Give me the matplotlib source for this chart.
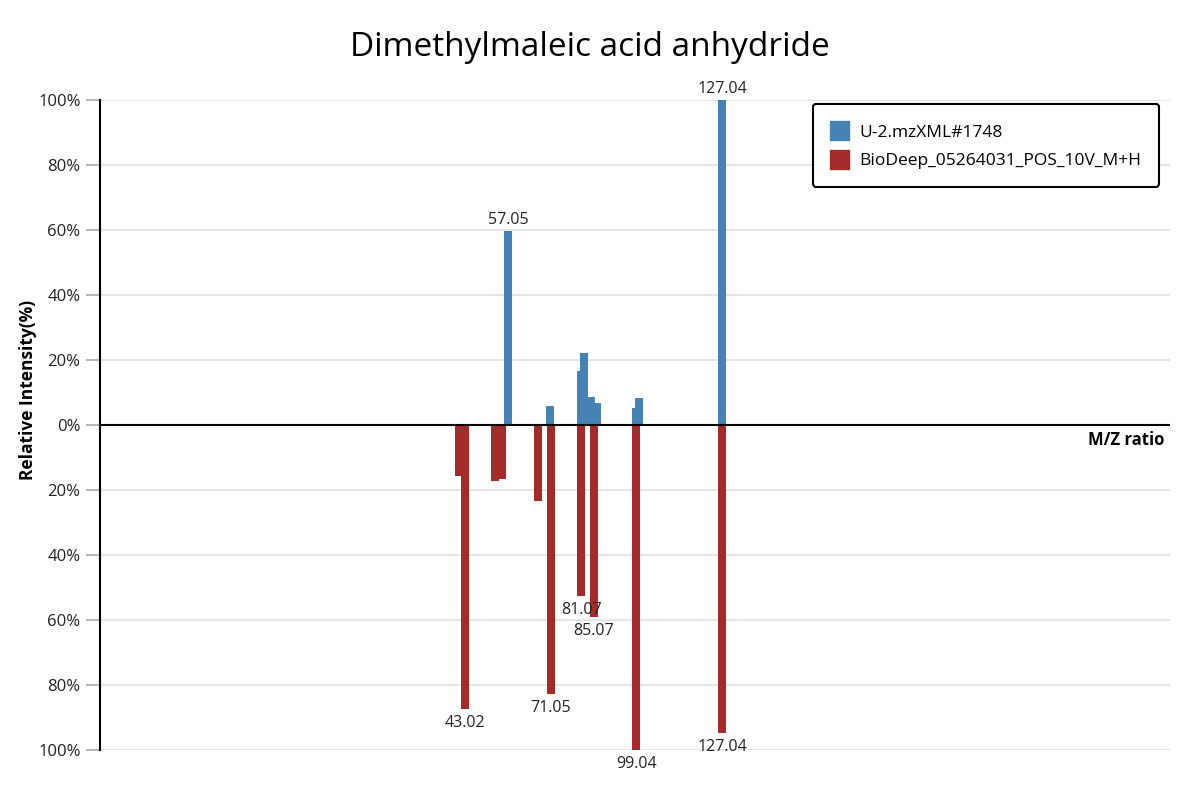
import matplotlib
matplotlib.use("Agg")
import matplotlib.pyplot as plt
from matplotlib.patches import Patch
from matplotlib.ticker import FixedLocator

plt.rcParams['font.family'] = ['Open Sans', 'DejaVu Sans']

title = "Dimethylmaleic acid anhydride"
query_name = "U-2.mzXML#1748"
ref_name = "BioDeep_05264031_POS_10V_M+H"

# query spectrum (upper, blue)
query_mz = [57.05, 70.8, 80.94, 81.92, 84.2, 86.15, 99.04, 100.0, 127.04]
query_int = [59.8, 5.8, 16.6, 22.2, 8.6, 6.8, 5.2, 8.3, 100.0]
query_labels = {57.05: "57.05", 127.04: "127.04"}

# reference spectrum (lower, red)
ref_mz = [41.06, 43.02, 52.83, 55.12, 66.89, 71.05, 81.07, 85.07, 99.04, 127.04]
ref_int = [15.7, 87.4, 17.2, 16.6, 23.4, 82.8, 52.6, 59.1, 100.0, 94.8]
ref_labels = {43.02: "43.02", 71.05: "71.05", 81.07: "81.07", 85.07: "85.07",
              99.04: "99.04", 127.04: "127.04"}

yticks = [-100, -80, -60, -40, -20, 0, 20, 40, 60, 80, 100]
ytick_labels = [f"{abs(v)}%" for v in yticks]

blue = "#4682B4"
red = "#A52A2A"

fig = plt.figure(figsize=(12, 8), dpi=100)
ax = fig.add_axes([100/1200, 50/800, 1070/1200, 650/800])
ax.set_xlim(-76.3, 273.5)
ax.set_ylim(-100, 100)

bw = 2.6
ax.bar(query_mz, query_int, width=bw, color=blue, zorder=3)
ax.bar(ref_mz, [-v for v in ref_int], width=bw, color=red, zorder=3)

for mz, inten in zip(query_mz, query_int):
    if mz in query_labels:
        ax.annotate(query_labels[mz], (mz, inten), xytext=(0, 2), textcoords="offset points",
                    ha="center", va="bottom", fontsize=11.5, color="#222222", zorder=5)
for mz, inten in zip(ref_mz, ref_int):
    if mz in ref_labels:
        ax.annotate(ref_labels[mz], (mz, -inten), xytext=(0, -4), textcoords="offset points",
                    ha="center", va="top", fontsize=11.5, color="#222222", zorder=5)

ax.yaxis.set_major_locator(FixedLocator(yticks))
ax.set_yticklabels(ytick_labels, fontsize=12, color="#222222")
ax.set_xticks([])
for v in yticks:
    if v != 0:
        ax.axhline(v, color="#e0e0e0", lw=1.2, zorder=1)
ax.axhline(0, color="black", lw=1.5, zorder=4)

for s in ["top", "right", "bottom"]:
    ax.spines[s].set_visible(False)
ax.spines["left"].set_linewidth(1.5)
ax.spines["left"].set_color("black")
ax.tick_params(axis="y", length=10, width=1.2, color="#aaaaaa", pad=4)

ax.set_ylabel("Relative Intensity(%)", fontsize=12.5, fontweight="bold")
ax.yaxis.set_label_coords(-63/1070, (750 - 390) / 650)
ax.annotate("M/Z ratio", (1.0, 0), xycoords=("axes fraction", "data"), xytext=(-4, -4),
            textcoords="offset points", ha="right", va="top", fontsize=12, fontweight="bold")

fig.text(590/1200, 1 - 48/800, title, ha="center", va="center", fontsize=24)

handles = [Patch(facecolor=blue, edgecolor=blue), Patch(facecolor=red, edgecolor=red)]
leg = ax.legend(handles, [query_name, ref_name], loc="upper right",
                bbox_to_anchor=(1159/1200, 1 - 104/800), bbox_transform=fig.transFigure,
                fontsize=12.5, frameon=True, fancybox=True, handlelength=1.1, handleheight=1.3,
                borderpad=1.0, labelspacing=0.55, handletextpad=0.6, borderaxespad=0)
leg.get_frame().set_edgecolor("black")
leg.get_frame().set_linewidth(1.5)
leg.get_frame().set_alpha(1)

fig.savefig("out.png", dpi=100, facecolor="white")
